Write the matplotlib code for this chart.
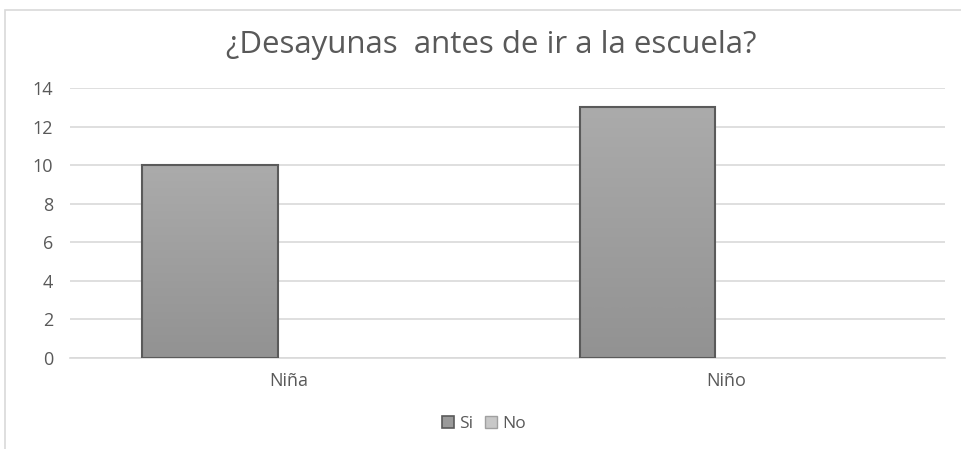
import numpy as np
import matplotlib.pyplot as plt
from matplotlib.patches import Rectangle, Patch
from matplotlib.colors import LinearSegmentedColormap

categories = ['Niña', 'Niño']
si_values = [10, 13]
no_values = [0, 0]
series_names = ['Si', 'No']
yticks = [0, 2, 4, 6, 8, 10, 12, 14]

plt.rcParams['font.family'] = ['Open Sans', 'DejaVu Sans']
text_color = '#595959'
grid_color = '#d9d9d9'

fig = plt.figure(figsize=(9.62, 4.49), dpi=100)
ax = fig.add_axes([70 / 962, 1 - 358 / 449, 875 / 962, 270 / 449])

# chart area border
fig.patches.append(Rectangle((5 / 962, -0.05), 1.0, 1 - 10 / 449 + 0.05,
                             transform=fig.transFigure, fill=False,
                             edgecolor='#d9d9d9', linewidth=1.2))

x = np.arange(len(categories))
width = 0.31
offset = 0.18

grad = np.linspace(0, 1, 256).reshape(-1, 1)
cmap = LinearSegmentedColormap.from_list('g', ['#ababab', '#929292'])
bars_si = ax.bar(x - offset, si_values, width, facecolor='none',
                 edgecolor='#5a5a5a', linewidth=1.5, zorder=3, label=series_names[0])
for b in bars_si:
    bx, by = b.get_x(), b.get_y()
    bw, bh = b.get_width(), b.get_height()
    ax.imshow(grad, cmap=cmap, aspect='auto',
              extent=[bx, bx + bw, by, by + bh], origin='upper', zorder=2)
bars_no = ax.bar(x + offset, no_values, width, color='#c8c8c8',
                 edgecolor='none', linewidth=0, zorder=3, label=series_names[1])

ax.set_xlim(-0.5, len(categories) - 0.5)
ax.set_ylim(0, 14)
ax.set_yticks(yticks)
ax.set_xticks(x)
ax.set_xticklabels(categories)
ax.yaxis.grid(True, color=grid_color, linewidth=1.2, zorder=0)
ax.set_axisbelow(True)
for s in ['top', 'right', 'left']:
    ax.spines[s].set_visible(False)
ax.spines['bottom'].set_color(grid_color)
ax.spines['bottom'].set_linewidth(1.2)
ax.tick_params(axis='both', length=0, colors=text_color, labelsize=13)
ax.tick_params(axis='y', pad=12)
ax.tick_params(axis='x', pad=10)

fig.text(491 / 962, 1 - 45 / 449, '¿Desayunas  antes de ir a la escuela?',
         ha='center', va='center', fontsize=22.5, color=text_color)

handles = [Patch(facecolor='#9a9a9a', edgecolor='#5a5a5a', linewidth=1.2),
           Patch(facecolor='#c8c8c8', edgecolor='#a0a0a0', linewidth=1.0)]
leg = fig.legend(handles, series_names, loc='center', bbox_to_anchor=(484 / 962, 1 - 424 / 449),
                 ncol=2, frameon=False, fontsize=12.5, handlelength=0.7, handleheight=0.7,
                 handletextpad=0.3, columnspacing=0.7)
for t in leg.get_texts():
    t.set_color(text_color)

fig.savefig('out.png', dpi=100)
